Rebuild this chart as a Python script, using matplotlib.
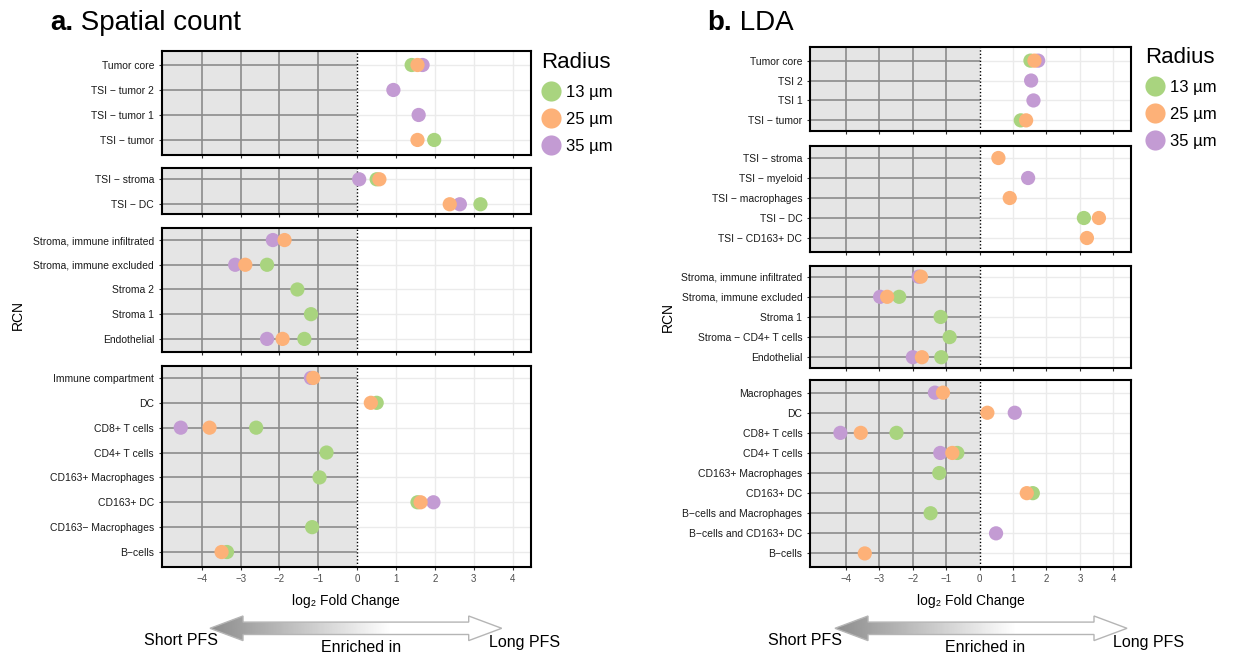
import numpy as np
import matplotlib
matplotlib.use("Agg")
import matplotlib.pyplot as plt
from matplotlib.lines import Line2D
from matplotlib.patches import Polygon

plt.rcParams['font.family'] = ['Liberation Sans', 'DejaVu Sans']

nan = np.nan

# ---------------- données : a. Spatial count ----------------
sc_g1 = ["Tumor core", "TSI \u2212 tumor 2", "TSI \u2212 tumor 1", "TSI \u2212 tumor"]
sc_g1_13 = [1.40, nan, nan, 1.98]
sc_g1_25 = [1.55, nan, nan, 1.55]
sc_g1_35 = [1.68, 0.93, 1.58, nan]

sc_g2 = ["TSI \u2212 stroma", "TSI \u2212 DC"]
sc_g2_13 = [0.50, 3.17]
sc_g2_25 = [0.57, 2.38]
sc_g2_35 = [0.05, 2.64]

sc_g3 = ["Stroma, immune infiltrated", "Stroma, immune excluded", "Stroma 2", "Stroma 1", "Endothelial"]
sc_g3_13 = [nan, -2.32, -1.54, -1.19, -1.36]
sc_g3_25 = [-1.87, -2.88, nan, nan, -1.92]
sc_g3_35 = [-2.17, -3.14, nan, nan, -2.32]

sc_g4 = ["Immune compartment", "DC", "CD8+ T cells", "CD4+ T cells", "CD163+ Macrophages",
         "CD163+ DC", "CD163\u2212 Macrophages", "B\u2212cells"]
sc_g4_13 = [nan, 0.50, -2.60, -0.79, -0.97, 1.55, -1.16, -3.35]
sc_g4_25 = [-1.13, 0.35, -3.80, nan, nan, 1.63, nan, -3.49]
sc_g4_35 = [-1.19, nan, -4.54, nan, nan, 1.96, nan, nan]

# ---------------- données : b. LDA ----------------
lda_g1 = ["Tumor core", "TSI 2", "TSI 1", "TSI \u2212 tumor"]
lda_g1_13 = [1.52, nan, nan, 1.23]
lda_g1_25 = [1.64, nan, nan, 1.39]
lda_g1_35 = [1.75, 1.54, 1.61, nan]

lda_g2 = ["TSI \u2212 stroma", "TSI \u2212 myeloid", "TSI \u2212 macrophages", "TSI \u2212 DC", "TSI \u2212 CD163+ DC"]
lda_g2_13 = [nan, nan, nan, 3.12, nan]
lda_g2_25 = [0.56, nan, 0.90, 3.57, 3.21]
lda_g2_35 = [nan, 1.45, nan, nan, nan]

lda_g3 = ["Stroma, immune infiltrated", "Stroma, immune excluded", "Stroma 1",
          "Stroma \u2212 CD4+ T cells", "Endothelial"]
lda_g3_13 = [nan, -2.41, -1.17, -0.90, -1.15]
lda_g3_25 = [-1.76, -2.77, nan, nan, -1.73]
lda_g3_35 = [-1.83, -2.98, nan, nan, -2.00]

lda_g4 = ["Macrophages", "DC", "CD8+ T cells", "CD4+ T cells", "CD163+ Macrophages", "CD163+ DC",
          "B\u2212cells and Macrophages", "B\u2212cells and CD163+ DC", "B\u2212cells"]
lda_g4_13 = [nan, nan, -2.49, -0.67, -1.21, 1.59, -1.47, nan, nan]
lda_g4_25 = [-1.10, 0.23, -3.56, -0.82, nan, 1.41, nan, nan, -3.44]
lda_g4_35 = [-1.34, 1.05, -4.17, -1.18, nan, nan, nan, 0.49, nan]

radius = ["13 \u00b5m", "25 \u00b5m", "35 \u00b5m"]
couleurs = ["#A9D47F", "#FDB178", "#C39BD3"]
ticks = [-4, -3, -2, -1, 0, 1, 2, 3, 4]

W, H = 1233, 657
fig = plt.figure(figsize=(W / 100, H / 100), dpi=100)


def axes_px(x0, y0, x1, y1):
    return fig.add_axes([x0 / W, 1 - y1 / H, (x1 - x0) / W, (y1 - y0) / H])


def panneau(ax, noms, v13, v25, v35, xlim, pad_h, pad_b, bas):
    n = len(noms)
    y = np.arange(n)
    ax.set_xlim(*xlim)
    ax.set_ylim(n - 1 + pad_b, -pad_h)
    # zone ombrée (short PFS)
    ax.axvspan(xlim[0], 0, color="#E5E5E5", lw=0, zorder=0)
    for t in ticks:
        if t > 0:
            ax.axvline(t, color="#EBEBEB", lw=1.0, zorder=0.5)
        elif t < 0:
            ax.axvline(t, color="#8C8C8C", lw=1.2, zorder=0.6)
    ax.hlines(y, 0, xlim[1], color="#EBEBEB", lw=1.0, zorder=0.5)
    ax.hlines(y, xlim[0], 0, color="#8C8C8C", lw=1.2, zorder=0.6)
    ax.axvline(0, color="black", ls=(0, (1, 1.5)), lw=1.0, zorder=1)
    for vals, c in [(v13, couleurs[0]), (v35, couleurs[2]), (v25, couleurs[1])]:
        ax.scatter(vals, y, s=105, color=c, edgecolors="none", zorder=3)
    ax.set_yticks(y)
    ax.set_yticklabels(noms, fontsize=7.5, color="#1A1A1A")
    ax.set_xticks(ticks)
    if bas:
        ax.set_xticklabels(["\u2212%d" % -t if t < 0 else str(t) for t in ticks], fontsize=7, color="#4D4D4D")
        ax.set_xlabel("log\u2082 Fold Change", fontsize=10, labelpad=7)
    else:
        ax.set_xticklabels([])
    ax.tick_params(axis="both", length=2.5, width=0.8, color="#333333", pad=3)
    for s in ax.spines.values():
        s.set_linewidth(1.5)
        s.set_color("black")


# ---------------- panneau a ----------------
xa = (-5.03, 4.47)
gauche = [
    (51, 154.7, sc_g1, sc_g1_13, sc_g1_25, sc_g1_35, 0.56, 0.59),
    (168.3, 214, sc_g2, sc_g2_13, sc_g2_25, sc_g2_35, 0.44, 0.39),
    (227.7, 352, sc_g3, sc_g3_13, sc_g3_25, sc_g3_35, 0.5, 0.53),
    (366, 566.7, sc_g4, sc_g4_13, sc_g4_25, sc_g4_35, 0.48, 0.59),
]
for i, (t, b, noms, a1, a2, a3, ph, pb) in enumerate(gauche):
    ax = axes_px(161.7, t, 531, b)
    panneau(ax, noms, a1, a2, a3, xa, ph, pb, i == 3)

# ---------------- panneau b ----------------
xb = (-5.08, 4.53)
droite = [
    (46.7, 131.3, lda_g1, lda_g1_13, lda_g1_25, lda_g1_35, 0.7, 0.55),
    (146, 252, lda_g2, lda_g2_13, lda_g2_25, lda_g2_35, 0.6, 0.7),
    (266, 368.3, lda_g3, lda_g3_13, lda_g3_25, lda_g3_35, 0.53, 0.55),
    (380, 566.7, lda_g4, lda_g4_13, lda_g4_25, lda_g4_35, 0.63, 0.66),
]
for i, (t, b, noms, a1, a2, a3, ph, pb) in enumerate(droite):
    ax = axes_px(810, t, 1131, b)
    panneau(ax, noms, a1, a2, a3, xb, ph, pb, i == 3)

# ---------------- textes, légendes, flèches ----------------
fond = fig.add_axes([0, 0, 1, 1], zorder=-1)
fond.set_xlim(0, W)
fond.set_ylim(H, 0)
fond.axis("off")

for x0, lettre, titre in [(50, "a.", "Spatial count"), (707, "b.", "LDA")]:
    t1 = fond.text(x0, 30, lettre, fontsize=20, fontweight="bold", va="baseline", ha="left")
    fond.annotate(" " + titre, xy=(1, 0), xycoords=t1, fontsize=20, va="bottom", ha="left")
fond.text(18, 315, "RCN", fontsize=10, rotation=90, va="center", ha="center")
fond.text(668, 317, "RCN", fontsize=10, rotation=90, va="center", ha="center")

poignees = [Line2D([], [], ls="", marker="o", markersize=14.5, color=c, markeredgewidth=0) for c in couleurs]
for (x0, y0) in [(534, 45), (1138, 40)]:
    leg = fig.legend(poignees, radius, title="Radius", loc="upper left",
                     bbox_to_anchor=(x0 / W, 1 - y0 / H), frameon=False, fontsize=12,
                     title_fontsize=16, handletextpad=0.3, labelspacing=0.72,
                     borderaxespad=0, handlelength=1.2, alignment="left")


def fleche(ax, x0, x1, yc):
    hh, sh, hl = 12.3, 6.2, 33
    pts = [(x0, yc), (x0 + hl, yc - hh), (x0 + hl, yc - sh), (x1 - hl, yc - sh), (x1 - hl, yc - hh),
           (x1, yc), (x1 - hl, yc + hh), (x1 - hl, yc + sh), (x0 + hl, yc + sh), (x0 + hl, yc + hh)]
    poly = Polygon(pts, closed=True, facecolor="none", edgecolor="#B5B5B5", lw=1.0, zorder=2)
    ax.add_patch(poly)
    f = np.linspace(0, 1, 300)
    g = np.clip(0.55 + 0.45 * f / 0.62, 0, 1)
    img = np.tile(g, (2, 1))
    im = ax.imshow(img, cmap="gray", vmin=0, vmax=1, extent=(x0, x1, yc + hh, yc - hh),
                   aspect="auto", zorder=1, interpolation="bilinear")
    im.set_clip_path(poly)
    ax.set_xlim(0, W)
    ax.set_ylim(H, 0)


fleche(fond, 210, 501.7, 628.3)
fleche(fond, 835, 1127, 628.3)
for dx in (0, 624):
    fond.text(181 + dx, 640.5, "Short PFS", fontsize=11.5, ha="center", va="center")
    fond.text(361 + dx, 648, "Enriched in", fontsize=11.5, ha="center", va="center")
    fond.text(524.5 + dx, 643, "Long PFS", fontsize=11.5, ha="center", va="center")

fig.savefig("out.png", dpi=100)
